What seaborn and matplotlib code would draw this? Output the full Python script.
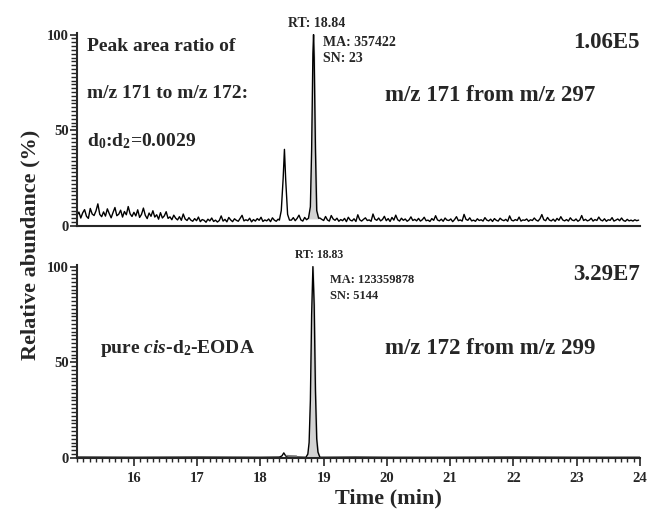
import numpy as np
import pandas as pd
import matplotlib
matplotlib.use("Agg")
import matplotlib.pyplot as plt
import seaborn as sns
from matplotlib.ticker import MultipleLocator

# ---- data ----
# top trace (m/z 171) baseline, sampled every 0.03 min from 15.10
top_noise = [5.5, 7.2, 4.1, 6.8, 8.5, 5.0, 3.9, 9.1, 6.2, 5.4,
             7.8, 11.5, 6.0, 4.8, 7.3, 5.1, 8.9, 6.4, 4.2, 7.0,
             9.6, 5.3, 6.1, 8.2, 4.6, 7.5, 5.8, 10.1, 6.3, 4.9,
             7.1, 5.2, 8.4, 4.4, 6.0, 9.3, 5.5, 3.8, 6.7, 5.0,
             7.9, 4.6, 5.8, 3.5, 6.9, 4.1, 5.2, 7.4, 3.9, 4.7,
             3.2, 5.6, 4.0, 3.1, 4.8, 2.9, 6.2, 3.6, 2.8, 4.3,
             3.0, 2.4, 3.8, 2.7, 4.6, 2.2, 3.3, 2.9, 1.9, 3.5,
             2.6, 4.1, 2.3, 3.0, 2.0, 2.8, 5.2, 2.5, 3.4, 2.1,
             4.4, 3.1, 2.2, 3.7, 2.9, 2.4, 3.9, 5.5, 2.6, 3.2,
             2.7, 4.0, 2.1, 3.3, 2.5, 3.8, 2.9, 4.5, 2.3, 3.1,
             2.6, 3.6, 2.2, 4.2, 3.0, 2.4, 3.5, 2.8, 3.2, 4.8,
             3.4, 2.6, 5.1, 3.0, 4.3, 2.7, 3.9, 5.6, 3.1, 2.5,
             4.4, 3.2, 5.0, 3.8, 4.6, 3.0, 5.3, 6.5, 4.1, 3.4,
             2.8, 4.9, 3.1, 2.5, 5.4, 3.6, 2.9, 4.0, 2.4, 3.3,
             2.7, 3.9, 2.2, 4.5, 3.0, 2.6, 3.7, 2.3, 5.8, 3.2,
             2.5, 3.4, 4.2, 2.8, 3.1, 2.4, 6.2, 3.5, 2.9, 4.1,
             2.6, 3.3, 5.0, 2.7, 3.8, 2.3, 4.4, 3.0, 5.6, 3.2,
             2.5, 4.0, 2.9, 3.6, 2.4, 3.1, 4.7, 2.8, 3.4, 2.6,
             3.9, 2.5, 3.2, 4.5, 2.7, 3.0, 2.3, 3.8, 2.9, 5.3,
             3.1, 2.6, 3.5, 2.4, 4.1, 3.0, 2.8, 3.6, 2.2, 3.3,
             4.8, 2.7, 3.1, 2.5, 6.0, 3.4, 2.9, 4.2, 2.6, 3.0,
             2.4, 3.7, 2.8, 3.2, 2.5, 4.3, 3.0, 2.6, 3.5, 2.3,
             3.8, 2.9, 2.5, 4.0, 3.1, 2.7, 3.4, 2.4, 5.2, 3.0,
             2.6, 3.3, 2.8, 4.6, 2.5, 3.1, 2.9, 3.6, 2.4, 3.2,
             2.8, 4.1, 3.0, 2.5, 3.7, 5.9, 3.2, 2.7, 4.4, 3.0,
             2.6, 3.5, 2.4, 3.9, 2.9, 4.8, 3.1, 2.6, 3.3, 2.5,
             4.2, 3.0, 2.7, 3.6, 2.4, 3.1, 5.4, 2.8, 3.4, 2.6,
             3.0, 4.0, 2.5, 3.3, 2.8, 4.6, 3.1, 2.6, 3.7, 2.4,
             3.2, 2.9, 4.3, 2.5, 3.0, 3.6, 2.7, 4.1, 2.8, 2.4,
             3.4, 2.6, 3.0, 2.5, 3.2, 2.7, 3.0]
noise_start = 15.10
noise_step = 0.03

# top peaks
top_small_t = [18.30, 18.33, 18.36, 18.38, 18.40, 18.43, 18.46]
top_small_y = [3, 8, 25, 40, 24, 6, 3]
top_main_t = [18.76, 18.79, 18.81, 18.83, 18.84, 18.85, 18.87, 18.89, 18.92]
top_main_y = [4, 10, 40, 90, 100, 88, 40, 8, 4]

# bottom trace (m/z 172)
bot_base_t = [15.10, 16.00, 17.00, 18.00, 18.30, 18.34, 18.37, 18.40, 18.43, 18.60, 18.70,
              19.00, 19.50, 20.00, 21.00, 22.00, 23.00, 24.00]
bot_base_y = [0.4, 0.3, 0.4, 0.3, 0.4, 1.0, 2.6, 1.0, 0.4, 0.4, 0.3,
              0.3, 0.4, 0.3, 0.3, 0.4, 0.3, 0.3]
bot_main_t = [18.72, 18.75, 18.77, 18.79, 18.81, 18.83, 18.85, 18.87, 18.89, 18.91, 18.94]
bot_main_y = [0.3, 2, 8, 30, 75, 100, 80, 35, 10, 3, 0.3]
bot_marker_t = [18.41, 18.57]
bot_marker_y = [1.2, 1.0]

# ---- build the traces ----
noise_t = np.round(noise_start + noise_step * np.arange(len(top_noise)), 2)
top = pd.DataFrame({"t": noise_t, "y": top_noise})
top = top[~(((top.t > 18.28) & (top.t < 18.48)) | ((top.t > 18.74) & (top.t < 18.94)))]
top = pd.concat([top,
                 pd.DataFrame({"t": top_small_t, "y": top_small_y}),
                 pd.DataFrame({"t": top_main_t, "y": top_main_y})]).sort_values("t")

bot = pd.DataFrame({"t": bot_base_t, "y": bot_base_y})
bot = bot[~((bot.t > 18.70) & (bot.t < 18.96))]
bot = pd.concat([bot, pd.DataFrame({"t": bot_main_t, "y": bot_main_y})]).sort_values("t")

sns.set_style("ticks")
plt.rcParams["font.family"] = ["Liberation Serif", "DejaVu Serif"]
plt.rcParams["font.weight"] = "bold"
plt.rcParams["mathtext.fontset"] = "custom"
plt.rcParams["mathtext.rm"] = "Liberation Serif:bold"
plt.rcParams["mathtext.it"] = "Liberation Serif:italic:bold"
plt.rcParams["mathtext.bf"] = "Liberation Serif:bold"

fig = plt.figure(figsize=(6.47, 5.11), dpi=100)
ax1 = fig.add_axes([0.119, 0.558, 0.870, 0.378])
ax2 = fig.add_axes([0.119, 0.104, 0.870, 0.378])

sns.lineplot(data=top, x="t", y="y", ax=ax1, color="black", lw=1.0, sort=False)
ax1.fill_between(top_main_t, 4, top_main_y, color="#d3d3d3", zorder=1)

sns.lineplot(data=bot, x="t", y="y", ax=ax2, color="black", lw=1.0, sort=False)
ax2.fill_between(bot_main_t, 0, bot_main_y, color="#d3d3d3", zorder=1)
sns.lineplot(x=bot_marker_t, y=bot_marker_y, ax=ax2, color="grey", lw=1.0)

for ax in (ax1, ax2):
    ax.set_xlim(15.1, 24.0)
    ax.set_ylim(0, 101)
    ax.set_xlabel("")
    ax.set_ylabel("")
    sns.despine(ax=ax)
    for s in ("left", "bottom"):
        ax.spines[s].set_linewidth(1.5)
    ax.set_yticks([0, 50, 100])
    ax.yaxis.set_minor_locator(MultipleLocator(2))
    ax.tick_params(axis="y", which="major", length=5, width=1.2, labelsize=10.5, pad=1)
    ax.tick_params(axis="y", which="minor", length=4, width=1.0)
    for lab in ax.get_yticklabels():
        lab.set_fontweight("bold")

ax1.set_xticks([])
ax1.tick_params(axis="x", which="both", length=0)

ax2.set_xticks([16, 17, 18, 19, 20, 21, 22, 23, 24])
ax2.xaxis.set_minor_locator(MultipleLocator(0.1))
ax2.tick_params(axis="x", which="major", length=6, width=1.2, labelsize=10.5, pad=4)
ax2.tick_params(axis="x", which="minor", length=3, width=1.0)
for lab in ax2.get_xticklabels():
    lab.set_fontweight("bold")

# annotations top
ax1.text(15.26, 94, "Peak area ratio of", fontsize=14, fontweight="bold", va="center")
ax1.text(15.26, 69, "m/z 171 to m/z 172:", fontsize=14, fontweight="bold", va="center")
ax1.text(15.26, 44.5, r"d$_0$:d$_2$=0.0029", fontsize=14, fontweight="bold", va="center")
ax1.text(18.89, 106, "RT: 18.84", fontsize=10, fontweight="bold", ha="center", va="center", clip_on=False)
ax1.text(18.99, 96, "MA: 357422", fontsize=10, fontweight="bold", va="center")
ax1.text(18.99, 87.5, "SN: 23", fontsize=10, fontweight="bold", va="center")
ax1.text(24.0, 96, "1.06E5", fontsize=16.5, fontweight="bold", ha="right", va="center")
ax1.text(19.97, 68, "m/z 171 from m/z 297", fontsize=16.5, fontweight="bold", va="center")

# annotations bottom
ax2.text(18.93, 106, "RT: 18.83", fontsize=8.5, fontweight="bold", ha="center", va="center", clip_on=False)
ax2.text(19.10, 93, "MA: 123359878", fontsize=9, fontweight="bold", va="center")
ax2.text(19.10, 84.5, "SN: 5144", fontsize=9, fontweight="bold", va="center")
ax2.text(24.0, 96, "3.29E7", fontsize=16.5, fontweight="bold", ha="right", va="center")
ax2.text(19.97, 57, "m/z 172 from m/z 299", fontsize=16.5, fontweight="bold", va="center")
ax2.text(15.46, 57, r"pure $\mathit{cis}$-d$_2$-EODA", fontsize=14, fontweight="bold", va="center")

fig.text(0.047, 0.52, "Relative abundance (%)", rotation=90, fontsize=16, fontweight="bold",
         ha="center", va="center")
fig.text(0.6, 0.025, "Time (min)", fontsize=16, fontweight="bold", ha="center", va="center")

fig.savefig("out.png", dpi=100)
